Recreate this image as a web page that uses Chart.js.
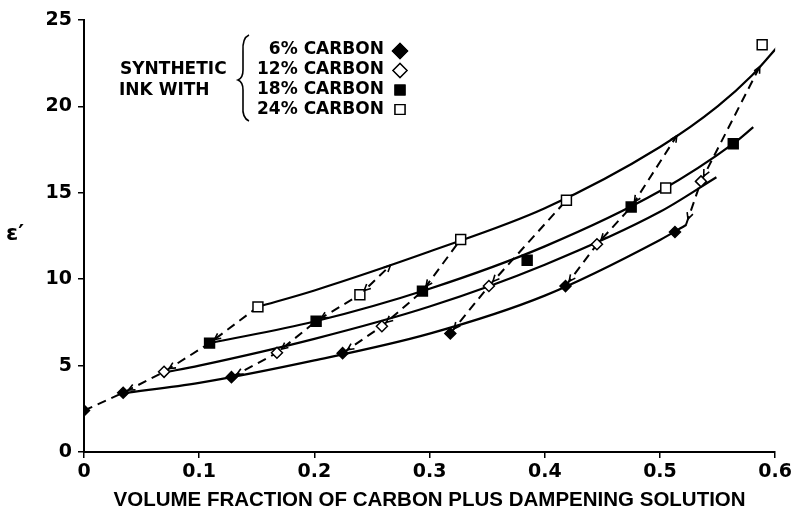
<!DOCTYPE html>
<html>
<head>
<meta charset="utf-8">
<script src="https://cdn.jsdelivr.net/npm/chart.js@4.4.1/dist/chart.umd.min.js"></script>
<style>
  html, body { margin: 0; padding: 0; background: #fff; }
</style>
</head>
<body>
<canvas id="myChart" width="795" height="523"></canvas>
<script>
'use strict';
// axis ticks
const xTicks = [0, 0.1, 0.2, 0.3, 0.4, 0.5, 0.6];
const xLabels = ['0', '0.1', '0.2', '0.3', '0.4', '0.5', '0.6'];
const yTicks = [0, 5, 10, 15, 20, 25];

// measured points  [volume fraction, epsilon']
const carbon6 = [[0, 2.4], [0.034, 3.43], [0.128, 4.33], [0.2245, 5.72], [0.318, 6.86], [0.418, 9.6], [0.513, 12.73]];
const carbon12 = [[0.0695, 4.64], [0.1675, 5.74], [0.2586, 7.28], [0.3515, 9.61], [0.4453, 12.02], [0.5356, 15.66]];
const carbon18 = [[0.109, 6.3], [0.2015, 7.57], [0.2938, 9.31], [0.3847, 11.1], [0.475, 14.18], [0.5636, 17.84]];
const carbon24 = [[0.151, 8.4], [0.2395, 9.1], [0.327, 12.3], [0.4188, 14.57], [0.505, 15.28], [0.5887, 23.57]];

// solid fitted curves
const curve6 = [[0.034, 3.4], [0.1, 4.0], [0.2, 5.3], [0.3, 6.85], [0.4, 9.05], [0.5, 12.27], [0.523, 13.15]];
const curve12 = [[0.0695, 4.6], [0.1, 5.0], [0.2, 6.55], [0.3, 8.42], [0.4, 10.84], [0.5, 13.9], [0.549, 15.9]];
const curve18 = [[0.109, 6.3], [0.2, 7.55], [0.3, 9.45], [0.4, 11.9], [0.5, 15.1], [0.5636, 17.84], [0.581, 18.8]];
const curve24 = [[0.151, 8.4], [0.2, 9.35], [0.3, 11.6], [0.4, 14.1], [0.5, 17.65], [0.55, 20.0], [0.58, 21.8], [0.604, 23.6]];

// dashed connecting lines
const dash1 = [[0, 2.4], [0.034, 3.43], [0.0695, 4.64], [0.109, 6.3], [0.151, 8.4]];
const dash2 = [[0.128, 4.33], [0.1675, 5.74], [0.2015, 7.57], [0.2395, 9.1], [0.266, 10.8]];
const dash3 = [[0.2245, 5.72], [0.2586, 7.28], [0.2938, 9.31], [0.327, 12.3]];
const dash4 = [[0.318, 6.86], [0.3515, 9.61], [0.4188, 14.57]];
const dash5 = [[0.418, 9.6], [0.4453, 12.02], [0.475, 14.18], [0.5146, 18.3]];
const dash6 = [[0.5226, 13.15], [0.5356, 15.66], [0.5866, 22.3]];
const dashEndArrow = [false, true, false, false, true, true];

const legendLabels = ['6% CARBON', '12% CARBON', '18% CARBON', '24% CARBON'];

function pts(arr) {
  return arr.map(p => ({x: p[0], y: p[1]}));
}

function markerSet(data, style, filled, r) {
  return {
    data: pts(data),
    showLine: false,
    pointStyle: style,
    pointRadius: r,
    pointHoverRadius: r,
    pointBackgroundColor: filled ? '#000' : '#fff',
    pointBorderColor: '#000',
    pointBorderWidth: 1.5,
    order: 0
  };
}

function curveSet(data) {
  return {
    data: pts(data),
    showLine: true,
    borderColor: '#000',
    borderWidth: 2.2,
    pointRadius: 0,
    cubicInterpolationMode: 'monotone',
    order: 2
  };
}

function dashSet(data) {
  return {
    data: pts(data),
    showLine: true,
    borderColor: '#000',
    borderWidth: 2,
    borderDash: [9, 6],
    pointRadius: 0,
    tension: 0,
    order: 1
  };
}

const dashes = [dash1, dash2, dash3, dash4, dash5, dash6];

function arrowHead(ctx, tipX, tipY, ang) {
  const len = 7, spread = 0.45;
  ctx.beginPath();
  ctx.moveTo(tipX - len * Math.cos(ang - spread), tipY - len * Math.sin(ang - spread));
  ctx.lineTo(tipX, tipY);
  ctx.lineTo(tipX - len * Math.cos(ang + spread), tipY - len * Math.sin(ang + spread));
  ctx.stroke();
}

const annotate = {
  id: 'annotate',
  afterDatasetsDraw(chart) {
    const ctx = chart.ctx;
    const xs = chart.scales.x;
    const ys = chart.scales.y;
    ctx.save();
    ctx.strokeStyle = '#000';
    ctx.lineWidth = 1.6;

    // arrowheads on dashed lines
    dashes.forEach((line, k) => {
      const p = line.map(q => [xs.getPixelForValue(q[0]), ys.getPixelForValue(q[1])]);
      for (let i = (k === 0 ? 1 : 0); i < p.length - 1; i++) {
        const a = Math.atan2(p[i][1] - p[i + 1][1], p[i][0] - p[i + 1][0]);
        arrowHead(ctx, p[i][0] - 6 * Math.cos(a), p[i][1] - 6 * Math.sin(a), a);
      }
      if (dashEndArrow[k]) {
        const n = p.length - 1;
        const a = Math.atan2(p[n][1] - p[n - 1][1], p[n][0] - p[n - 1][0]);
        arrowHead(ctx, p[n][0], p[n][1], a);
      }
    });

    // legend block
    ctx.fillStyle = '#000';
    ctx.font = 'bold 17px "DejaVu Sans"';
    ctx.textBaseline = 'middle';
    ctx.textAlign = 'left';
    ctx.fillText('SYNTHETIC', 120, 70);
    ctx.fillText('INK WITH', 119, 91);

    // brace
    ctx.lineWidth = 1.6;
    ctx.beginPath();
    ctx.moveTo(249, 35);
    ctx.quadraticCurveTo(242, 38, 243, 52);
    ctx.lineTo(243, 70);
    ctx.quadraticCurveTo(243, 78, 238, 80);
    ctx.quadraticCurveTo(243, 82, 243, 90);
    ctx.lineTo(243, 106);
    ctx.quadraticCurveTo(242, 118, 249, 121);
    ctx.stroke();

    ctx.textAlign = 'right';
    legendLabels.forEach((t, i) => {
      ctx.fillText(t, 384, 50 + i * 20);
    });
    const styles = [['rectRot', true, 7.5], ['rectRot', false, 7], ['rect', true, 7], ['rect', false, 7]];
    styles.forEach((s, i) => {
      ctx.fillStyle = s[1] ? '#000' : '#fff';
      ctx.lineWidth = 1.3;
      Chart.helpers.drawPoint(ctx, {pointStyle: s[0], radius: s[2], borderWidth: 1.3}, 400, 51 + i * 19.5);
      ctx.fill();
      ctx.stroke();
    });

    // y axis symbol
    ctx.fillStyle = '#000';
    ctx.textAlign = 'left';
    ctx.font = 'bold 22px "DejaVu Sans"';
    ctx.fillText('\u03b5\u2032', 6, 234);
    ctx.restore();
  }
};

const ctx = document.getElementById('myChart').getContext('2d');
const chart = new Chart(ctx, {
  type: 'scatter',
  data: {
    datasets: [
      markerSet(carbon6, 'rectRot', true, 5.5),
      markerSet(carbon12, 'rectRot', false, 5.5),
      markerSet(carbon18, 'rect', true, 7),
      markerSet(carbon24, 'rect', false, 7),
      curveSet(curve6),
      curveSet(curve12),
      curveSet(curve18),
      curveSet(curve24),
      dashSet(dash1),
      dashSet(dash2),
      dashSet(dash3),
      dashSet(dash4),
      dashSet(dash5),
      dashSet(dash6)
    ]
  },
  options: {
    responsive: false,
    devicePixelRatio: 1,
    animation: false,
    layout: {padding: {left: 0, right: 18, top: 20, bottom: 0}},
    plugins: {
      legend: {display: false},
      tooltip: {enabled: false}
    },
    scales: {
      x: {
        type: 'linear',
        min: 0,
        max: 0.6,
        afterBuildTicks: s => { s.ticks = xTicks.map(v => ({value: v})); },
        afterFit: s => { s.height = 71; },
        ticks: {
          color: '#000',
          padding: 3,
          font: {family: '"DejaVu Sans"', size: 19, weight: 'bold'},
          callback: (v, i) => xLabels[i]
        },
        grid: {drawOnChartArea: false, drawTicks: true, tickLength: 6, color: '#000', lineWidth: 1.5},
        border: {color: '#000', width: 2},
        title: {
          display: true,
          text: 'VOLUME FRACTION OF CARBON PLUS DAMPENING SOLUTION',
          color: '#000',
          font: {family: '"Liberation Sans"', size: 20.5, weight: 'bold'},
          padding: {top: 0, bottom: 10}
        }
      },
      y: {
        type: 'linear',
        min: 0,
        max: 25,
        afterBuildTicks: s => { s.ticks = yTicks.map(v => ({value: v})); },
        afterFit: s => { s.width = 84; },
        ticks: {
          color: '#000',
          padding: 6,
          font: {family: '"DejaVu Sans"', size: 19, weight: 'bold'}
        },
        grid: {drawOnChartArea: false, drawTicks: true, tickLength: 6, color: '#000', lineWidth: 1.5},
        border: {color: '#000', width: 2}
      }
    }
  },
  plugins: [annotate]
});
</script>
</body>
</html>
